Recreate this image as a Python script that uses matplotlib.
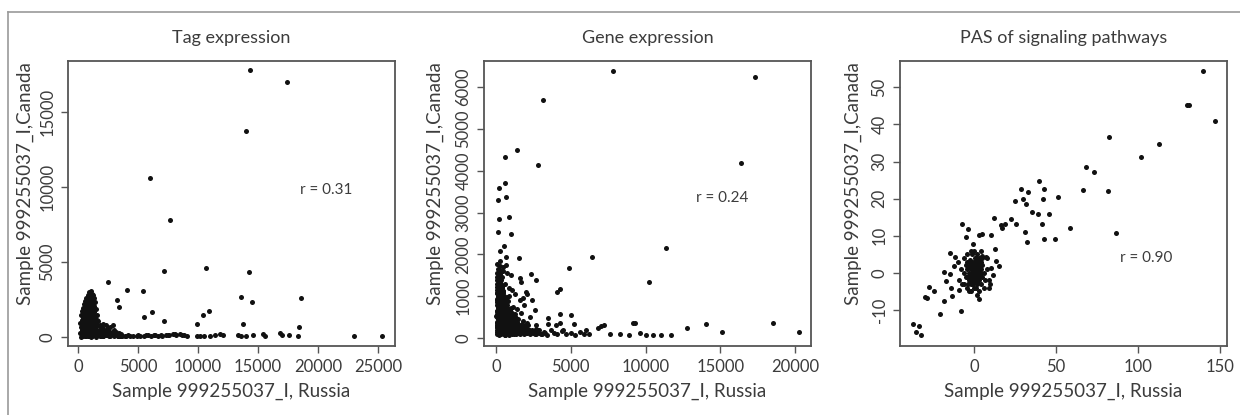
import matplotlib
matplotlib.use('Agg')
import matplotlib.pyplot as plt
from matplotlib.lines import Line2D

plt.rcParams['font.family'] = ['Lato', 'DejaVu Sans']

# ---- Tag expression ----
tag_x = [14300, 17400, 14000, 6000, 7700, 2500, 4100, 5400, 7200, 10700, 14200,
         3250, 3400, 5500, 6200, 7200, 9900, 10400, 10900, 13600, 14500, 13700,
         18600, 18400, 23000, 25300,
         1050, 950, 1150, 850, 1250, 1000, 700, 1350, 900, 1150, 600, 1050, 1400,
         800, 1200, 500, 950, 1300, 700, 1100, 400, 850, 1500, 1200, 600, 1000,
         300, 1350, 750, 1100, 500, 900, 1600, 250, 1250, 650, 1000, 400, 1450,
         800, 1150, 300, 550, 1700, 950, 200, 1300, 700, 1050, 450, 1850, 1500,
         850, 250, 1200, 600, 2000, 950, 350, 1650, 750, 1350, 200, 1000, 550,
         1800, 1200, 400, 800, 1500, 250, 1100, 650, 1900, 900, 1400, 500, 1100,
         700, 1300, 900, 600, 1100, 800, 1000, 1200, 850,
         2100, 2300, 2700, 2900, 2000, 2500, 3000, 2200, 2600, 3200, 2400, 2800,
         3400, 3600, 2000, 2300, 3000, 3300, 3700, 4000, 4300, 2600, 2100, 3500,
         1800, 1900,
         4600, 4900, 5200, 5500, 5800, 6100, 6400, 6700, 7000, 7300, 7600, 7900,
         8200, 8500, 8800, 9100, 9900, 10200, 10500, 11000, 11400, 11800, 12100,
         13300, 13600, 14000, 14600, 15400, 15600, 16800, 17000, 17600, 18300,
         300, 600, 900, 1200, 1500, 1800, 2100, 2400, 2700, 3000, 3300, 3600, 3900, 4200,
         250, 550, 850, 1150, 1450, 1750, 2050, 2350, 2650, 2950,
         300, 600, 900, 1200, 1500, 1800, 2100, 2400,
         350, 650, 950, 1250, 1550, 1850,
         400, 700, 1000, 1300, 1600,
         450, 750, 1050, 1350,
         550, 850, 1150,
         650, 950, 1250,
         750, 1050,
         950,
         5000, 5700, 6300, 6900, 7500, 8100, 8700]
tag_y = [17800, 17000, 13700, 10600, 7800, 3700, 3150, 3100, 4400, 4600, 4350,
         2450, 2000, 1350, 1650, 1100, 900, 1500, 1750, 2700, 2350, 850,
         2600, 650, 100, 100,
         3100, 2980, 2900, 2820, 2780, 2700, 2620, 2600, 2540, 2480, 2420, 2380,
         2330, 2280, 2230, 2180, 2140, 2100, 2050, 2010, 1960, 1920, 1880, 1840,
         1800, 1760, 1720, 1680, 1640, 1600, 1560, 1520, 1480, 1440, 1400, 1360,
         1320, 1280, 1240, 1200, 1160, 1120, 1080, 1040, 1000, 960, 920, 880, 840,
         800, 760, 720, 680, 640, 600, 560, 520, 480, 440, 400, 360, 320, 280,
         240, 200, 160, 120, 80, 40, 20, 10, 0, 100, 60, 150, 200, 300, 450, 700,
         800, 1100, 1400, 1700, 2000, 2200, 2450, 2650,
         900, 780, 700, 800, 650, 600, 500, 480, 400, 350, 320, 280,
         250, 200, 200, 150, 150, 100, 90, 70, 60, 80, 50, 40,
         350, 550,
         80, 60, 100, 70, 120, 90, 140, 100, 80, 150, 110, 170,
         130, 190, 120, 100, 70, 90, 60, 100, 140, 190, 160,
         130, 80, 70, 110, 180, 90, 240, 120, 120, 90,
         60, 90, 40, 70, 110, 50, 80, 120, 60, 100, 40, 90, 70, 110,
         250, 220, 280, 240, 260, 210, 270, 230, 190, 250,
         500, 470, 530, 490, 510, 460, 520, 480,
         800, 830, 770, 820, 780, 810,
         1100, 1070, 1130, 1080, 1120,
         1400, 1430, 1370, 1410,
         1700, 1730, 1670,
         2000, 1970, 2030,
         2300, 2330,
         2600,
         130, 160, 110, 150, 120, 170, 140]

# ---- Gene expression ----
gene_x = [7800, 17300, 3150, 1400, 600, 2800, 16400, 180, 600, 130, 650, 200,
          900, 150, 1000, 300, 530, 650, 1550, 6450, 11350, 4850, 10250, 2350,
          2650, 1600, 4050, 4300, 3500, 4250, 5000, 4250, 5200, 7000, 9150, 9300,
          12800, 14050, 15100, 18500, 20250, 7600, 8300, 8900, 9600, 10000, 10500,
          11000, 11700, 6800, 7200,
          100, 250, 150, 350, 80, 200, 420, 120, 300, 60, 220, 380, 140, 500, 90,
          260, 420, 160, 600, 70, 320, 200, 480, 110, 700, 250, 380, 60, 550, 180,
          300, 800, 100, 420, 650, 220, 900, 60, 350, 500, 150, 1000, 280, 700, 80,
          450, 1200, 200, 600, 900, 350, 1100, 750, 550, 1300, 850, 1500, 1050,
          1250, 950, 700, 1150, 850, 600, 450, 750, 1000, 900, 1300, 1100, 500,
          300, 650, 1600, 1400, 1700, 1800, 1900, 2000, 1600, 1450, 2200, 2400,
          2100, 2600, 2300, 2800, 3000, 2700, 1900, 2100, 2000, 1700, 1800, 2400,
          2600, 3200, 3400, 3700, 3900, 4100, 4400, 4700, 5000, 5300, 5600, 5900,
          6200, 4000, 3500, 4500, 6000,
          50, 180, 320, 470, 610, 760, 900, 1050, 1200, 1350, 1500, 1680, 1850,
          2050, 2250, 2450, 2650, 2850, 3100, 3300,
          90, 230, 380, 520, 690, 830, 980, 1130, 1280, 1450, 1620, 1800, 2000,
          2200, 2400, 2650, 2900,
          40, 170, 300, 440, 580, 730, 880, 1030, 1180, 1350, 1550, 1750, 1950, 2150,
          120, 260, 400, 540, 680, 830, 990, 1150, 1320, 1500,
          60, 200, 340, 480, 630, 780, 940, 1100, 1300,
          110, 250, 390, 530, 690, 850, 1010,
          50, 180, 320, 460, 620, 780,
          130, 270, 410, 560, 720,
          60, 200, 340, 500,
          150, 290, 430,
          80, 230,
          120, 350, 560, 790, 1020, 1260, 1490, 1730, 1980, 2220,
          70, 260, 480, 710, 950, 1180, 1420,
          110, 250, 390, 540, 680, 830, 970, 1120, 1270, 1420, 1600, 1780, 1960,
          2150, 2350, 2550, 2750,
          40, 160, 300, 450, 600, 750, 900, 1050, 1210, 1380, 1560, 1740,
          90, 230, 370, 510, 660, 800, 950, 1100, 1260, 1430,
          30, 170, 310, 450, 600, 750, 900, 1060, 1220,
          80, 220, 360, 500, 650, 800, 960,
          40, 170, 310, 450, 600, 750,
          90, 230, 370, 520, 680,
          40, 170, 310, 450,
          100, 240, 380,
          40, 180, 320,
          120, 260]
gene_y = [6380, 6250, 5700, 4500, 4330, 4130, 4180, 3580, 3700, 3300, 3370, 2850,
          2900, 2530, 2500, 2080, 2200, 1950, 1920, 1950, 2150, 1670, 1330, 1520,
          1380, 1440, 1090, 1170, 470, 580, 560, 370, 330, 280, 360, 360,
          250, 340, 150, 370, 140, 90, 100, 80, 120, 70, 80,
          80, 70, 250, 300,
          1780, 1720, 1650, 1600, 1550, 1500, 1450, 1400, 1350, 1300, 1250, 1200,
          1150, 1120, 1080, 1040, 1000, 960, 930, 900, 870, 830, 800, 770, 740,
          710, 680, 650, 620, 590, 560, 530, 500, 470, 440, 410, 380, 350, 320,
          290, 260, 230, 200, 170, 140, 110, 90, 80, 75, 70, 130, 150, 300, 400,
          250, 450, 180, 350, 500, 600, 850, 750, 1000, 1300, 1600, 1550, 1500,
          1200, 1050, 1150, 1700, 1850, 1750, 900, 700, 600, 400, 250, 120, 100,
          300, 200, 150, 350, 100, 500, 180, 100, 300, 800, 1050, 1100, 1350, 950,
          900, 680, 150, 80, 200, 110, 90, 160, 100, 120, 80, 150, 100,
          90, 300, 330, 200, 180,
          100, 130, 90, 120, 80, 110, 140, 95, 125, 85, 115, 135, 90,
          120, 100, 130, 85, 110, 95, 120,
          200, 230, 180, 215, 190, 240, 205, 175, 225, 195, 210, 185, 235,
          200, 180, 215, 190,
          320, 290, 340, 305, 330, 295, 345, 310, 285, 325, 300, 335, 290, 315,
          450, 480, 430, 465, 440, 470, 425, 455, 485, 445,
          580, 610, 560, 595, 570, 600, 555, 590, 575,
          720, 690, 740, 705, 730, 695, 715,
          860, 890, 840, 875, 850, 880,
          1000, 1030, 980, 1015, 990,
          1150, 1120, 1170, 1135,
          1300, 1330, 1280,
          1450, 1420,
          160, 140, 170, 150, 165, 145, 155, 160, 140, 150,
          260, 240, 270, 250, 235, 265, 245,
          150, 165, 140, 155, 170, 145, 160, 150, 140, 165, 155, 145, 160,
          150, 140, 155, 145,
          260, 275, 250, 265, 245, 270, 255, 240, 265, 250, 260, 245,
          390, 375, 400, 385, 395, 380, 405, 370, 390, 385,
          520, 535, 510, 525, 540, 515, 530, 505, 520,
          650, 665, 640, 655, 670, 645, 660,
          790, 775, 800, 785, 770, 795,
          930, 945, 920, 935, 915,
          1070, 1085, 1060, 1075,
          1220, 1235, 1210,
          1380, 1365, 1390,
          1550, 1540]

# ---- PAS of signaling pathways ----
pas_x = [139.8, 130.1, 131.0, 146.7, 82.5, 112.7, 101.7, 68.5, 73.0, 66.5, 81.9,
         86.5, 58.6, 51.1, 49.7, 45.6, 42.8, 41.3, 42.4, 42.8, 39.9, 38.9, 35.5,
         32.4, 31.2, 32.8, 31.6, 29.8, 28.4, 24.9, 25.7, 22.3, 18.8, 17.2, 16.4,
         12.4, 10.5, 4.9, 3.2, -0.4, -3.4, -7.1, -4.9, 12.8, 15.0, 13.2, 11.9,
         10.3, 8.9, 4.7, 7.1, -14.6, -11.4, -12.2, -18.2, -17.2, -14.6, -13.8,
         -13.4, -9.3, -7.7, -18.0, -24.3, -27.4, -29.6, -28.6, -20.5, 2.8, -37.1,
         -33.6, -35.3, -32.2,
         0, 1, -1, 2, -2, 0, 1, -1, 3, -3, 2, -2, 0, 4, -4, 3, -3, 1, -1, 5, -5,
         4, -4, 2, -2, 0, 1, -1, 2, -2, 3, -3, 0, 1, -1, 2, -2, 0, 4, -4, 5, -5,
         6, -6, 3, -3, 5, -6, 7, -7, 8, -8, 6, -6, 4, -4, 0, 2, -2, 1, -1, 0.5,
         -0.5, 1.5, -1.5, 2.5, -2.5, 3, -3, 1, -1, 9, 10, 8, -9, -10,
         -4, -3, -2, -1, 0, 1, 2, 3, 4, -0.5, 0.5, 1.5, -1.5, 2.5, -2.5, 3.5,
         -3.5, 0, 0.7, -0.7, 1.2, -1.2, 2.2, -2.2, 0.3, -0.3, 1.8, -1.8, 3.2, -3.2]
pas_y = [54.5, 45.2, 45.3, 40.8, 36.7, 34.6, 31.2, 28.5, 27.2, 22.4, 22.2,
         10.8, 12.1, 20.4, 9.1, 15.9, 9.1, 13.1, 19.9, 22.6, 24.8, 15.9, 16.5,
         8.2, 11.0, 21.9, 18.6, 19.9, 22.6, 19.4, 13.3, 14.6, 13.3, 12.2, 13.0,
         14.7, 10.3, 10.5, 10.3, 7.8, 11.8, 13.2, 9.7, 6.4, 1.8, 3.1, -0.6,
         1.2, -4.2, 4.5, 4.2, 5.4, 4.2, 1.8, 0.3, -2.2, -0.2, -4.2,
         -6.3, -4.7, -10.3, -7.5, -5.0, -3.8, -6.6, -6.8, -11.0, -7.1, -13.9,
         -14.2, -15.9, -16.7,
         0, 1, -1, 0, 1, 2, -2, 3, 2, -2, -3, -3, -4, 0, 1, 4, 3, 4, 5, -1, -1,
         -3, -4, 5, -5, 3, -4, -2, 2, 2, -1, 0, -1, 0, 1, -1, -1, 1, 3, 3, 2, 2,
         0, 0, -5, -5, 4, 4, -2, -3, 1, 1, -4, -3, 6, 5, 6, -6, 6, 2, 0, -0.5,
         0.5, 1.5, -1.5, 0.5, -0.5, 1, -1, 3, -3, -2, -3, 4, -2, 3,
         -1, 1.5, -0.5, 2.5, -2.5, 1.5, 3, -2, 1, -3, 4, -1, 1, -1.5, 3.5, 0,
         -3, 0.5, -0.8, 0.3, 0.6, -0.6, 1.2, -1.8, 2.2, -2.2, -2.7, 2.7, 3.2, -0.8]

panels = [
    ('Tag expression', tag_x, tag_y, (-833, 26400), (-600, 18400),
     [0, 5000, 10000, 15000, 20000, 25000], [0, 5000, 10000, 15000],
     'r = 0.31', (18500, 9800)),
    ('Gene expression', gene_x, gene_y, (-802, 21056), (-191, 6627),
     [0, 5000, 10000, 15000, 20000], [0, 1000, 2000, 3000, 4000, 5000, 6000],
     'r = 0.24', (13400, 3350)),
    ('PAS of signaling pathways', pas_x, pas_y, (-45.1, 154.3), (-19.7, 57.1),
     [0, 50, 100, 150], [-10, 0, 10, 20, 30, 40, 50],
     'r = 0.90', (88.8, 4.0)),
]
lefts = [68, 484, 900]
ylab_x = [-43, -49, -47]   # px offset of the y label centre from the axes

txt = '#3c3c3c'
box = '#555555'

fig = plt.figure(figsize=(12.4, 4.15), dpi=100)
for (title, xs, ys, xl, yl, xt, yt, rtxt, rpos), left, yx in zip(panels, lefts, ylab_x):
    ax = fig.add_axes([left / 1240, (415 - 346) / 415, 327 / 1240, 285 / 415])
    ax.scatter(xs, ys, s=13, c='#111111', linewidths=0)
    ax.set_xlim(xl)
    ax.set_ylim(yl)
    ax.set_xticks(xt)
    ax.set_yticks(yt)
    ax.set_yticklabels([str(v) for v in yt], rotation=90, va='center')
    ax.tick_params(direction='out', length=5, width=1, color=box, labelcolor=txt,
                   labelsize=12, pad=4)
    for sp in ax.spines.values():
        sp.set_color(box)
        sp.set_linewidth(1.3)
    ax.set_title(title, fontsize=13, color=txt, pad=13)
    ax.set_xlabel('Sample 999255037_I, Russia', fontsize=13.5, color=txt, labelpad=6)
    ax.set_ylabel('Sample 999255037_I,Canada', fontsize=13.5, color=txt, va='center')
    ax.yaxis.set_label_coords(yx / 327, (346 - 184) / 285)
    ax.text(rpos[0], rpos[1], rtxt, fontsize=11, color=txt, va='center')

# thin grey frame along top and left edge
fig.add_artist(Line2D([8 / 1240, 1], [1 - 12 / 415, 1 - 12 / 415], color='#9a9a9a', lw=1.2))
fig.add_artist(Line2D([8 / 1240, 8 / 1240], [0, 1 - 12 / 415], color='#9a9a9a', lw=1.2))

fig.savefig('out.png', dpi=100)
